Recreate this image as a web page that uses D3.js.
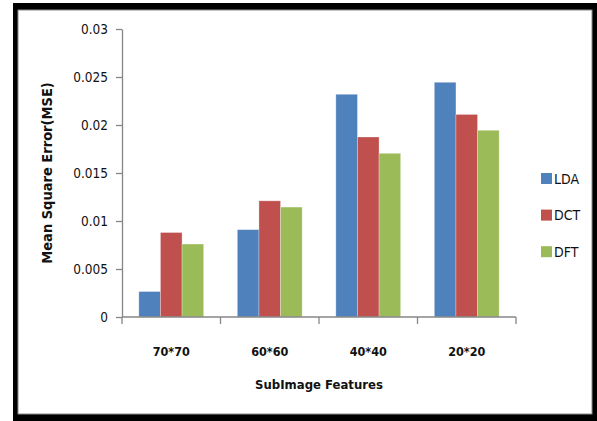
<!DOCTYPE html>
<html>
<head>
<meta charset="utf-8">
<script src="https://cdn.jsdelivr.net/npm/d3@7/dist/d3.min.js"></script>
<style>
  html, body { margin: 0; padding: 0; background: #fff; }
  svg { display: block; }
  text { font-family: "DejaVu Sans Condensed", "Liberation Sans Narrow", "Open Sans", sans-serif; fill: #111; }
</style>
</head>
<body>
<svg id="chart" width="597" height="421"></svg>
<script>
// Sub-image sizes on the x axis
const categories = ["70*70", "60*60", "40*40", "20*20"];
// Feature-extraction methods
const seriesNames = ["LDA", "DCT", "DFT"];
const seriesColors = ["#4F81BD", "#C0504D", "#9BBB59"];
// Mean square error per method, one value per sub-image size
const ldaValues = [0.00265, 0.0091, 0.0232, 0.02445];
const dctValues = [0.0088, 0.0121, 0.01875, 0.0211];
const dftValues = [0.0076, 0.01145, 0.01705, 0.01945];
// Y axis tick labels
const yTicks = [0, 0.005, 0.01, 0.015, 0.02, 0.025, 0.03];
const yTickLabels = ["0", "0.005", "0.01", "0.015", "0.02", "0.025", "0.03"];

const seriesValues = [ldaValues, dctValues, dftValues];

const svg = d3.select("#chart");

// Frame: thick black border with a thin grey inner edge
svg.append("rect").attr("x", 13).attr("y", 3).attr("width", 584).attr("height", 418).attr("fill", "#000");
svg.append("rect").attr("x", 18).attr("y", 10).attr("width", 574).attr("height", 404)
  .attr("fill", "#fff").attr("stroke", "#8c8c8c").attr("stroke-width", 1);

const plot = { left: 122, right: 516, top: 29, bottom: 317 };

const x = d3.scaleBand().domain(categories).range([plot.left, plot.right]).paddingInner(0).paddingOuter(0);
const inner = d3.scaleBand().domain(seriesNames).range([0, x.bandwidth()]).paddingInner(0).paddingOuter(0.78);
const y = d3.scaleLinear().domain([0, 0.03]).range([plot.bottom, plot.top]);

// Bars
const groups = svg.append("g").selectAll("g")
  .data(categories)
  .join("g")
  .attr("transform", d => `translate(${x(d)},0)`);

groups.selectAll("rect")
  .data((c, i) => seriesNames.map((s, k) => ({ s, k, v: seriesValues[k][i] })))
  .join("rect")
  .attr("x", d => inner(d.s))
  .attr("width", inner.bandwidth())
  .attr("y", d => y(d.v))
  .attr("height", d => y(0) - y(d.v))
  .attr("fill", d => seriesColors[d.k])
  .attr("stroke", "rgba(255,255,255,0.35)")
  .attr("stroke-width", 0.8);

// Y axis
const yAxis = d3.axisLeft(y).tickValues(yTicks).tickFormat((d, i) => yTickLabels[i]).tickSize(6).tickSizeOuter(0);
const gy = svg.append("g").attr("transform", `translate(${plot.left},0)`).call(yAxis);
gy.select(".domain").attr("stroke", "#868686").attr("stroke-width", 1.3);
gy.selectAll(".tick line").attr("stroke", "#868686").attr("stroke-width", 1.3);
gy.selectAll(".tick text").attr("x", -14).attr("font-size", 13.5).attr("fill", "#111")
  .style("font-family", "'DejaVu Sans Condensed', 'Liberation Sans Narrow', sans-serif");

// X axis: ticks between categories, labels drawn separately
const xAxisG = svg.append("g").attr("transform", `translate(0,${plot.bottom})`);
xAxisG.append("line").attr("x1", plot.left).attr("x2", plot.right).attr("y1", 0).attr("y2", 0)
  .attr("stroke", "#868686").attr("stroke-width", 1.3);
const boundaries = categories.map(c => x(c)).concat([plot.right]);
xAxisG.selectAll("line.tk").data(boundaries).join("line").attr("class", "tk")
  .attr("x1", d => d).attr("x2", d => d).attr("y1", 0).attr("y2", 7)
  .attr("stroke", "#868686").attr("stroke-width", 1.3);
xAxisG.selectAll("text").data(categories).join("text")
  .attr("x", d => x(d) + x.bandwidth() / 2)
  .attr("y", 39)
  .attr("text-anchor", "middle")
  .attr("font-size", 12.5)
  .attr("font-weight", "bold")
  .text(d => d);

// Axis titles
svg.append("text")
  .attr("x", (plot.left + plot.right) / 2)
  .attr("y", 389)
  .attr("text-anchor", "middle")
  .attr("font-size", 13)
  .attr("font-weight", "bold")
  .text("SubImage Features");

svg.append("text")
  .attr("transform", `translate(52,${(plot.top + plot.bottom) / 2}) rotate(-90)`)
  .attr("text-anchor", "middle")
  .attr("font-size", 14.5)
  .attr("font-weight", "bold")
  .text("Mean Square Error(MSE)");

// Legend
const legend = svg.append("g").attr("transform", "translate(541,173)");
const li = legend.selectAll("g").data(seriesNames).join("g")
  .attr("transform", (d, i) => `translate(0,${i * 36.6})`);
li.append("rect").attr("width", 11).attr("height", 11).attr("fill", (d, i) => seriesColors[i]);
li.append("text").attr("x", 13).attr("y", 10.5).attr("font-size", 14).text(d => d);
</script>
</body>
</html>
